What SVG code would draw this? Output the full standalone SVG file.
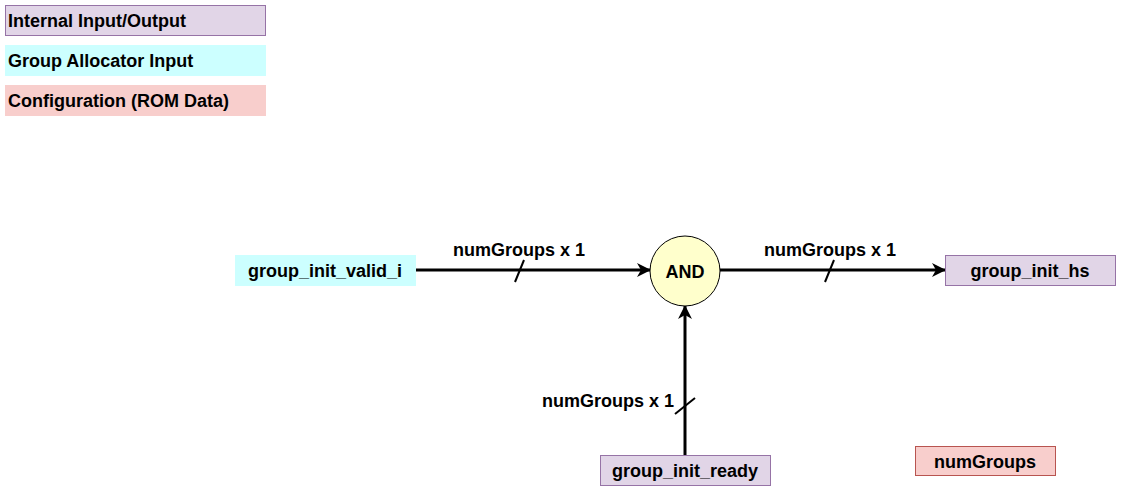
<svg xmlns="http://www.w3.org/2000/svg" width="1121" height="491" viewBox="0 0 1121 491">
<style>
text{font-family:"Liberation Sans",Arial,sans-serif;font-weight:bold;font-size:18px;fill:#000}
.io{fill:#e1d5e7;stroke:#9673a6;stroke-width:1}
.ga{fill:#ccffff;stroke:#ccffff;stroke-width:1}
.cfg{fill:#f8cecc;stroke:#f8cecc;stroke-width:1}
.cfg2{fill:#f8cecc;stroke:#b85450;stroke-width:1}
.edge{stroke:#000;stroke-width:3;fill:none}
.tick{stroke:#000;stroke-width:2;fill:none}
</style>
<defs>
<marker id="arr" markerWidth="14" markerHeight="14" refX="13" refY="7" orient="auto" markerUnits="userSpaceOnUse" viewBox="0 0 14 14">
<path d="M0,0 L14,7 L0,14 L4,7 Z" fill="#000"/>
</marker>
</defs>
<g id="legend-io"><rect class="io" x="5.5" y="5.5" width="260" height="30"/><text x="8" y="27">Internal Input/Output</text></g>
<g id="legend-ga"><rect class="ga" x="5.5" y="45.5" width="260" height="30"/><text x="8" y="67">Group Allocator Input</text></g>
<g id="legend-cfg"><rect class="cfg" x="5.5" y="85.5" width="260" height="30"/><text x="8" y="107">Configuration (ROM Data)</text></g>
<g id="edges">
<line class="edge" x1="415" y1="270" x2="650" y2="270" marker-end="url(#arr)"/>
<line class="tick" x1="515" y1="282" x2="524" y2="260"/>
<text x="519" y="256" text-anchor="middle">numGroups x 1</text>
<line class="edge" x1="720" y1="270" x2="945" y2="270" marker-end="url(#arr)"/>
<line class="tick" x1="825" y1="282" x2="834" y2="260"/>
<text x="830" y="256" text-anchor="middle">numGroups x 1</text>
<line class="edge" x1="685" y1="455" x2="685" y2="306" marker-end="url(#arr)"/>
<line class="tick" x1="675" y1="414" x2="695" y2="398"/>
<text x="674" y="407" text-anchor="end">numGroups x 1</text>
</g>
<g id="group_init_valid_i"><rect class="ga" x="235.5" y="255.5" width="180" height="30"/><text x="325" y="277" text-anchor="middle">group_init_valid_i</text></g>
<g id="and"><circle cx="685" cy="271" r="35" fill="#ffffcc" stroke="#000" stroke-width="1"/><text x="685" y="278" text-anchor="middle" font-size="20">AND</text></g>
<g id="group_init_hs"><rect class="io" x="945.5" y="255.5" width="170" height="30"/><text x="1030" y="277" text-anchor="middle">group_init_hs</text></g>
<g id="group_init_ready"><rect class="io" x="600.5" y="455.5" width="170" height="30"/><text x="685" y="477" text-anchor="middle">group_init_ready</text></g>
<g id="numGroups"><rect class="cfg2" x="915.5" y="446.5" width="140" height="29"/><text x="985" y="468" text-anchor="middle">numGroups</text></g>
</svg>
